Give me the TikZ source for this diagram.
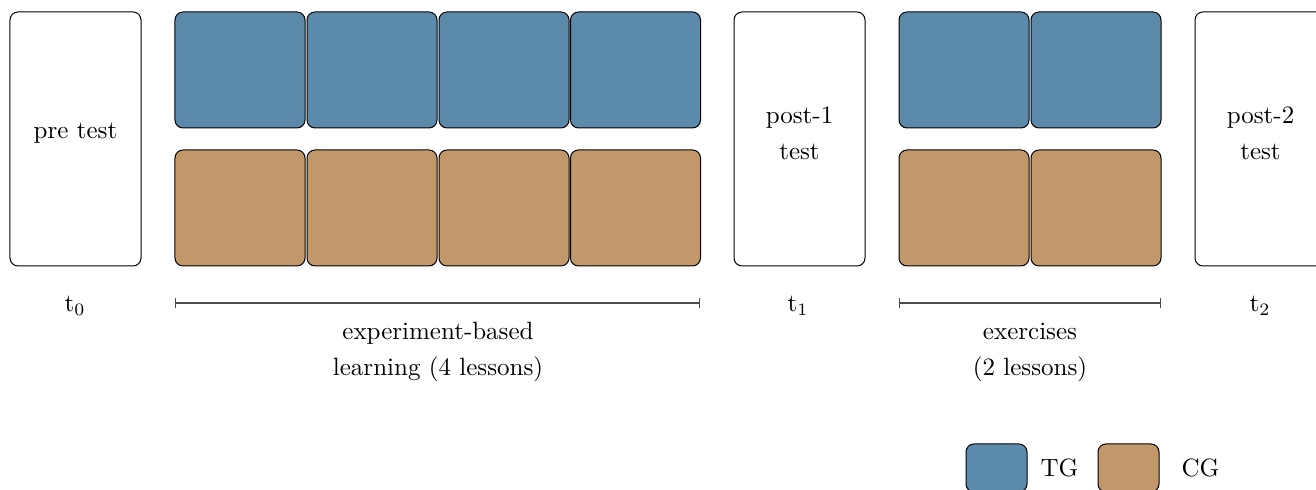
\documentclass[tikz,border=0pt]{standalone}
\usetikzlibrary{arrows.meta}
\definecolor{tgblue}{RGB}{92,138,170}
\definecolor{cgbrown}{RGB}{194,152,106}
\begin{document}
\begin{tikzpicture}[x=0.4pt,y=-0.4pt,
  blk/.style={draw=black,line width=0.4pt,rounded corners=3.2pt,inner sep=0pt,outer sep=0pt,minimum width=52pt,minimum height=46.4pt},
  tgbox/.style={blk,fill=tgblue},
  cgbox/.style={blk,fill=cgbrown},
  testbox/.style={draw=black,line width=0.4pt,rounded corners=3.2pt,fill=white,inner sep=0pt,outer sep=0pt,minimum width=52.4pt,minimum height=101.6pt},
  lbl/.style={align=center,inner sep=0pt},
  span/.style={draw=black!70,line width=0.5pt,{Bar[width=4pt]}-{Bar[width=4pt]}}]
\useasboundingbox (0,0) rectangle (1316,490);
% tests
\node[testbox] (pre) at (75.5,139) {};
\node[testbox] (post1) at (799.5,139) {};
\node[testbox] (post2) at (1260.5,139) {};
\node[lbl] (pret) at ([yshift=2.2pt]pre.center) {pre test};
\node[lbl] (post1t) at ([yshift=2.2pt]post1.center) {post-1\\[2.4pt]test};
\node[lbl] (post2t) at ([yshift=2.2pt]post2.center) {post-2\\[2.4pt]test};
% experiment lessons
\node[tgbox] (a1) at (240,70) {};
\node[tgbox] (a2) at (372,70) {};
\node[tgbox] (a3) at (504,70) {};
\node[tgbox] (a4) at (635.5,70) {};
\node[cgbox] (b1) at (240,208) {};
\node[cgbox] (b2) at (372,208) {};
\node[cgbox] (b3) at (504,208) {};
\node[cgbox] (b4) at (635.5,208) {};
% exercises
\node[tgbox] (c1) at (964,70) {};
\node[tgbox] (c2) at (1096,70) {};
\node[cgbox] (d1) at (964,208) {};
\node[cgbox] (d2) at (1096,208) {};
% time labels
\node[lbl] (t0) at (75,306) {t$_0$};
\node[lbl] (t1) at (798,306) {t$_1$};
\node[lbl] (t2) at (1260,306) {t$_2$};
% spans
\coordinate (s1a) at (175,303);
\coordinate (s1b) at (700,303);
\coordinate (s2a) at (899,303);
\coordinate (s2b) at (1161,303);
\draw[span] (s1a) -- (s1b);
\draw[span] (s2a) -- (s2b);
\node[lbl] (exp) at (438,352) {experiment-based\\[2.4pt]learning (4 lessons)};
\node[lbl] (exer) at (1030,352) {exercises\\[2.4pt](2 lessons)};
% legend
\node[blk,fill=tgblue,minimum width=24.4pt,minimum height=19.2pt] (ltg) at (996.5,468) {};
\node[lbl,anchor=west] (ltgt) at (1040,468) {TG};
\node[blk,fill=cgbrown,minimum width=24.4pt,minimum height=19.2pt] (lcg) at (1128.5,468) {};
\node[lbl,anchor=west] (lcgt) at (1181,468) {CG};
\end{tikzpicture}
\end{document}
